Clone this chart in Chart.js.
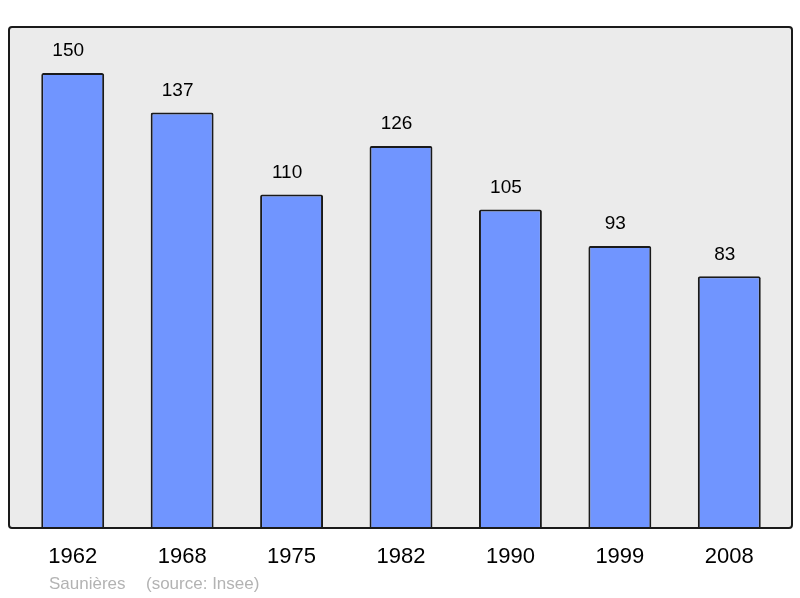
<!DOCTYPE html>
<html>
<head>
<meta charset="utf-8">
<script src="https://cdn.jsdelivr.net/npm/chart.js@4/dist/chart.umd.min.js"></script>
<style>
  html, body { margin: 0; padding: 0; background: #fff; }
  #wrap { width: 800px; height: 598px; position: relative; }
</style>
</head>
<body>
<div id="wrap"><canvas id="popChart"></canvas></div>
<script>
// données de population
const years = ['1962', '1968', '1975', '1982', '1990', '1999', '2008'];
const population = [150, 137, 110, 126, 105, 93, 83];
const footerCommune = 'Saunières';
const footerSource = '(source: Insee)';

const FONT = '"Liberation Sans", Arial, sans-serif';

// fond gris + cadre, puis étiquettes
const framePlugin = {
  id: 'frame',
  beforeDraw(chart) {
    const ctx = chart.ctx;
    ctx.save();
    ctx.fillStyle = '#ebebeb';
    ctx.beginPath();
    ctx.roundRect(9, 27, 783, 501, 3);
    ctx.fill();
    ctx.restore();
  },
  afterDraw(chart) {
    const ctx = chart.ctx;
    const x = chart.scales.x;
    const y = chart.scales.y;
    ctx.save();
    ctx.strokeStyle = '#1a1a1a';
    ctx.lineWidth = 2;
    ctx.beginPath();
    ctx.roundRect(9, 27, 783, 501, 3);
    ctx.stroke();

    ctx.fillStyle = '#000';
    ctx.textAlign = 'center';
    ctx.textBaseline = 'middle';
    ctx.font = '19px ' + FONT;
    population.forEach((v, i) => {
      ctx.fillText(String(v), x.getPixelForValue(i) - 4.5, y.getPixelForValue(v) - 22);
    });
    ctx.font = '22px ' + FONT;
    years.forEach((yr, i) => {
      ctx.fillText(yr, x.getPixelForValue(i), 557);
    });

    ctx.fillStyle = '#b3b3b3';
    ctx.textAlign = 'left';
    ctx.font = '17px ' + FONT;
    ctx.fillText(footerCommune, 49, 584);
    ctx.fillText(footerSource, 146, 584);
    ctx.restore();
  }
};

new Chart(document.getElementById('popChart'), {
  type: 'bar',
  data: {
    labels: years,
    datasets: [{
      data: population,
      backgroundColor: '#7095ff',
      borderColor: '#1a1a1a',
      borderWidth: 2,
      borderRadius: 2,
      borderSkipped: 'bottom',
      barPercentage: 0.575,
      categoryPercentage: 1
    }]
  },
  options: {
    responsive: true,
    maintainAspectRatio: false,
    animation: false,
    layout: { padding: { left: 18, right: 16, top: 27, bottom: 70 } },
    plugins: {
      legend: { display: false },
      tooltip: { enabled: false }
    },
    scales: {
      x: { display: false },
      y: { display: false, min: 0, max: 165.2 }
    }
  },
  plugins: [framePlugin]
});
</script>
</body>
</html>
